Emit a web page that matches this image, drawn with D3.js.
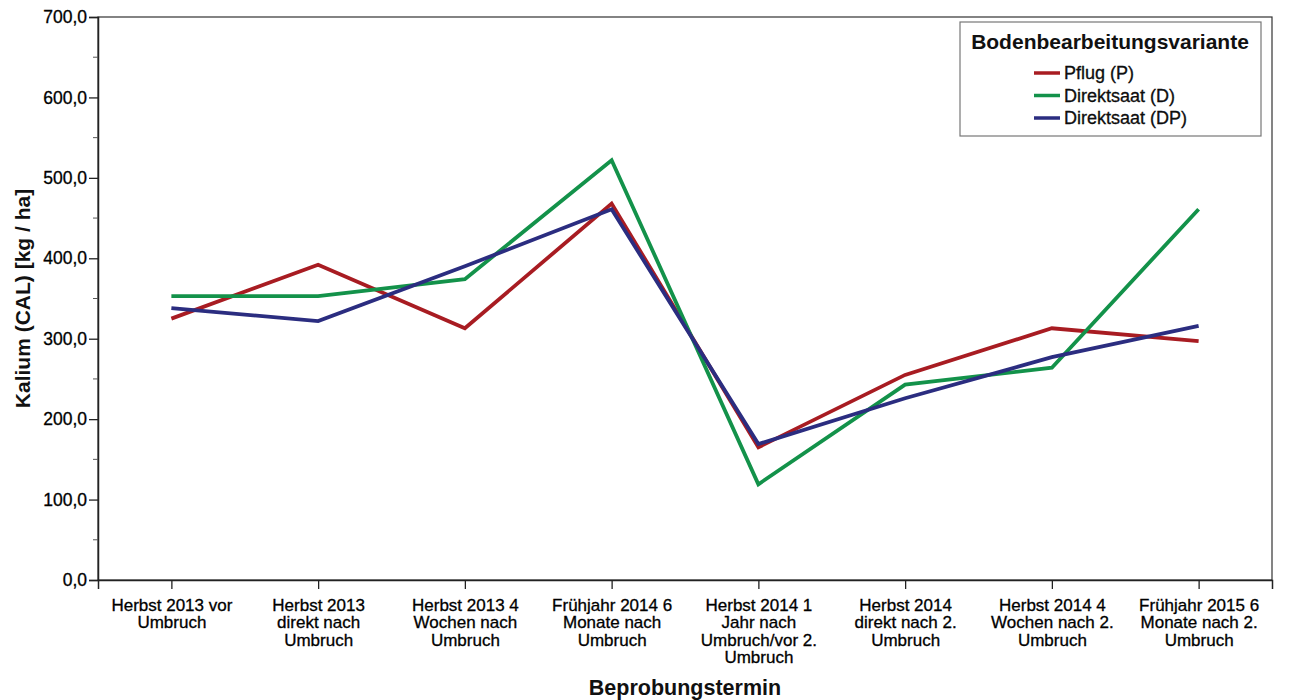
<!DOCTYPE html>
<html>
<head>
<meta charset="UTF-8">
<title>Kalium (CAL)</title>
<script src="https://d3js.org/d3.v7.min.js"></script>
<style>
    body, html { margin: 0; background: #fff; }
    text { font-family: "Liberation Sans", Arial, sans-serif; fill: #111; }
    .tick text { font-size: 17px; fill: #000; stroke: #000; stroke-width: 0.3px; }
</style>
</head>
<body>
<div id="chart"></div>
<script>
// Beprobungstermine (x-axis categories, line breaks as in the original)
const termine = [
    ["Herbst 2013 vor", "Umbruch"],
    ["Herbst 2013", "direkt nach", "Umbruch"],
    ["Herbst 2013 4", "Wochen nach", "Umbruch"],
    ["Frühjahr 2014 6", "Monate nach", "Umbruch"],
    ["Herbst 2014 1", "Jahr nach", "Umbruch/vor 2.", "Umbruch"],
    ["Herbst 2014", "direkt nach 2.", "Umbruch"],
    ["Herbst 2014 4", "Wochen nach 2.", "Umbruch"],
    ["Frühjahr 2015 6", "Monate nach 2.", "Umbruch"]
];
const varianten = ["Pflug (P)", "Direktsaat (D)", "Direktsaat (DP)"];
const farben = ["#a81c22", "#13924a", "#2b2d80"];

// Kalium (CAL) in kg/ha
const pflug = [325, 392, 313, 468, 165, 255, 313, 297];
const direktsaatD = [353, 353, 374, 522, 119, 243, 264, 461];
const direktsaatDP = [338, 322, 390, 461, 169, 226, 277, 316];
const serien = [pflug, direktsaatD, direktsaatDP];

const yTicks = [0, 100, 200, 300, 400, 500, 600, 700];

const width = 1293, height = 700;
const margin = {left: 98, right: 21, top: 17, bottom: 120};

const svg = d3.select("#chart").append("svg")
    .attr("width", width)
    .attr("height", height);

const x = d3.scalePoint()
    .domain(d3.range(termine.length))
    .range([margin.left, width - margin.right])
    .padding(0.5);

const y = d3.scaleLinear()
    .domain([0, 700])
    .range([height - margin.bottom, margin.top]);

// frame
svg.append("rect")
    .attr("x", margin.left)
    .attr("y", margin.top)
    .attr("width", width - margin.right - margin.left)
    .attr("height", height - margin.bottom - margin.top)
    .attr("fill", "none")
    .attr("stroke", "#333")
    .attr("stroke-width", 1.2);

// y axis
const yAxis = svg.append("g")
    .attr("transform", "translate(" + margin.left + ",0)")
    .call(d3.axisLeft(y).tickValues(yTicks).tickSize(9).tickPadding(2)
        .tickFormat(d => d3.format(".1f")(d).replace(".", ",")));
yAxis.select(".domain").attr("stroke", "#222").attr("stroke-width", 1.5);
yAxis.selectAll(".tick line").attr("stroke", "#222").attr("stroke-width", 1.3);
yAxis.selectAll(".tick text").style("font-size", "17.5px");

// minor ticks at 50s
svg.append("g").selectAll("line")
    .data(yTicks.slice(0, -1).map(d => d + 50))
    .join("line")
    .attr("x1", margin.left - 5)
    .attr("x2", margin.left)
    .attr("y1", d => y(d))
    .attr("y2", d => y(d))
    .attr("stroke", "#555")
    .attr("stroke-width", 1);

// x axis
const xAxis = svg.append("g")
    .attr("transform", "translate(0," + (height - margin.bottom) + ")")
    .call(d3.axisBottom(x).tickSize(9).tickFormat(""));
xAxis.select(".domain").attr("stroke", "#222").attr("stroke-width", 1.5);
xAxis.selectAll(".tick line").attr("stroke", "#222").attr("stroke-width", 1.3);

xAxis.selectAll(".tick").append("text")
    .attr("text-anchor", "middle")
    .selectAll("tspan")
    .data(i => termine[i])
    .join("tspan")
    .attr("x", 0)
    .attr("y", (d, j) => 31 + j * 17.3)
    .text(d => d);

// axis titles
svg.append("text")
    .attr("x", (margin.left + width - margin.right) / 2)
    .attr("y", 695)
    .attr("text-anchor", "middle")
    .style("font-size", "21.5px")
    .style("font-weight", "bold")
    .text("Beprobungstermin");

svg.append("text")
    .attr("transform", "translate(30," + ((margin.top + height - margin.bottom) / 2) + ") rotate(-90)")
    .attr("text-anchor", "middle")
    .style("font-size", "21px")
    .style("font-weight", "bold")
    .text("Kalium (CAL) [kg / ha]");

// lines
const line = d3.line()
    .x((d, i) => x(i))
    .y(d => y(d));

svg.append("g").selectAll("path")
    .data(serien)
    .join("path")
    .attr("d", line)
    .attr("fill", "none")
    .attr("stroke", (d, i) => farben[i])
    .attr("stroke-width", 3.8)
    .attr("stroke-linejoin", "miter");

// legend
const legend = svg.append("g").attr("transform", "translate(960,22)");
legend.append("rect")
    .attr("width", 301)
    .attr("height", 114)
    .attr("fill", "#fff")
    .attr("stroke", "#777")
    .attr("stroke-width", 1.2);
legend.append("text")
    .attr("x", 150)
    .attr("y", 27)
    .attr("text-anchor", "middle")
    .style("font-size", "21px")
    .style("font-weight", "bold")
    .text("Bodenbearbeitungsvariante");
const items = legend.selectAll(".item")
    .data(varianten)
    .join("g")
    .attr("class", "item")
    .attr("transform", (d, i) => "translate(74," + (51 + i * 22.5) + ")");
items.append("line")
    .attr("x1", 0).attr("x2", 26)
    .attr("stroke", (d, i) => farben[i])
    .attr("stroke-width", 3.5);
items.append("text")
    .attr("x", 30)
    .attr("dy", "0.35em")
    .style("font-size", "18px")
    .style("stroke", "#000")
    .style("stroke-width", "0.3px")
    .text(d => d);
</script>
</body>
</html>
